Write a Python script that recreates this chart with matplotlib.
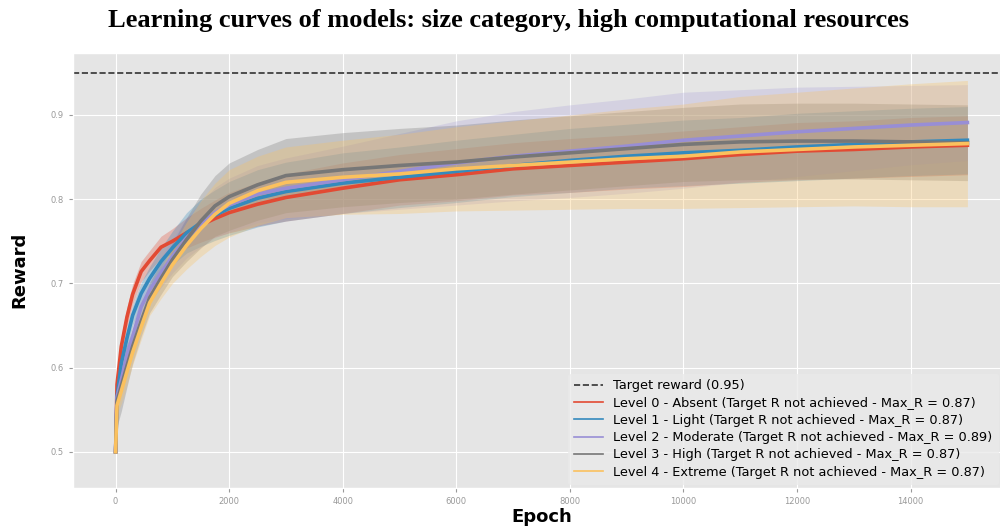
import matplotlib
matplotlib.use("Agg")
import matplotlib.pyplot as plt

plt.style.use("ggplot")

# ---- datos: recompensa media y desviacion por nivel -------------------------

epocas = [0, 25, 100, 200, 300, 450, 600, 800, 1000, 1250, 1500, 1750, 2000,
          2500, 3000, 4000, 5000, 6000, 7000, 8000, 9000, 10000, 11000, 12000,
          13000, 14000, 15000]

media_n0 = [0.50, 0.58, 0.625, 0.660, 0.687, 0.714, 0.727, 0.743, 0.750, 0.760,
            0.769, 0.777, 0.784, 0.794, 0.802, 0.813, 0.823, 0.829, 0.836, 0.840,
            0.844, 0.848, 0.853, 0.857, 0.859, 0.862, 0.864]
media_n1 = [0.50, 0.565, 0.605, 0.635, 0.662, 0.688, 0.706, 0.726, 0.742, 0.760,
            0.772, 0.781, 0.789, 0.801, 0.809, 0.819, 0.826, 0.833, 0.840, 0.846,
            0.851, 0.855, 0.858, 0.862, 0.865, 0.868, 0.870]
media_n2 = [0.50, 0.565, 0.585, 0.615, 0.637, 0.672, 0.692, 0.713, 0.732, 0.754,
            0.770, 0.784, 0.793, 0.806, 0.813, 0.823, 0.833, 0.843, 0.851, 0.857,
            0.863, 0.870, 0.875, 0.880, 0.884, 0.888, 0.891]
media_n3 = [0.50, 0.56, 0.578, 0.602, 0.625, 0.655, 0.683, 0.706, 0.728, 0.752,
            0.774, 0.792, 0.803, 0.817, 0.828, 0.835, 0.840, 0.844, 0.850, 0.855,
            0.860, 0.865, 0.868, 0.869, 0.869, 0.868, 0.867]
media_n4 = [0.50, 0.555, 0.572, 0.595, 0.618, 0.648, 0.677, 0.700, 0.722, 0.745,
            0.765, 0.782, 0.795, 0.810, 0.820, 0.826, 0.830, 0.836, 0.840, 0.844,
            0.848, 0.851, 0.856, 0.859, 0.862, 0.864, 0.866]

desv_n0 = [0.0, 0.01, 0.012, 0.012, 0.012, 0.012, 0.012, 0.013, 0.015, 0.018,
           0.020, 0.022, 0.024, 0.026, 0.028, 0.030, 0.030, 0.031, 0.031, 0.032,
           0.032, 0.033, 0.033, 0.034, 0.034, 0.035, 0.035]
desv_n1 = [0.0, 0.01, 0.012, 0.012, 0.012, 0.013, 0.014, 0.016, 0.020, 0.024,
           0.028, 0.030, 0.032, 0.034, 0.035, 0.036, 0.036, 0.037, 0.037, 0.038,
           0.038, 0.039, 0.039, 0.040, 0.040, 0.040, 0.040]
desv_n2 = [0.0, 0.01, 0.012, 0.012, 0.013, 0.014, 0.015, 0.018, 0.020, 0.024,
           0.027, 0.030, 0.032, 0.034, 0.036, 0.040, 0.045, 0.050, 0.053, 0.055,
           0.056, 0.057, 0.055, 0.053, 0.050, 0.047, 0.045]
desv_n3 = [0.0, 0.03, 0.03, 0.025, 0.02, 0.018, 0.018, 0.019, 0.020, 0.026,
           0.032, 0.036, 0.040, 0.042, 0.044, 0.044, 0.044, 0.044, 0.044, 0.044,
           0.044, 0.044, 0.045, 0.045, 0.045, 0.045, 0.045]
desv_n4 = [0.0, 0.01, 0.015, 0.015, 0.015, 0.015, 0.015, 0.018, 0.022, 0.028,
           0.033, 0.037, 0.040, 0.041, 0.042, 0.044, 0.047, 0.050, 0.053, 0.056,
           0.059, 0.062, 0.066, 0.068, 0.070, 0.073, 0.075]

objetivo = 0.95
max_r = [0.87, 0.87, 0.89, 0.87, 0.87]
niveles = ["Level 0 - Absent", "Level 1 - Light", "Level 2 - Moderate",
           "Level 3 - High", "Level 4 - Extreme"]

medias = [media_n0, media_n1, media_n2, media_n3, media_n4]
desvios = [desv_n0, desv_n1, desv_n2, desv_n3, desv_n4]
colores = ["#E24A33", "#348ABD", "#988ED5", "#777777", "#FBC15E"]
# la banda morada queda algo mas apagada, el resto igual
alfa_banda = [0.3, 0.3, 0.22, 0.3, 0.3]

# ---- dibujo -----------------------------------------------------------------

fig = plt.figure(figsize=(10, 5.29), dpi=100)
ax = fig.add_axes([0.073, 0.0775, 0.937, 0.823])

ax.axhline(objetivo, color="#333333", lw=1.2, ls="--",
           label=f"Target reward ({objetivo})")

for nombre, m, d, c, mx, al in zip(niveles, medias, desvios, colores, max_r,
                                   alfa_banda):
    inf = [a - b for a, b in zip(m, d)]
    sup = [a + b for a, b in zip(m, d)]
    ax.fill_between(epocas, inf, sup, color=c, alpha=al, lw=0)
    ax.plot(epocas, m, color=c, lw=2.6,
            label=f"{nombre} (Target R not achieved - Max_R = {mx})")

ax.set_xlim(-750, 15750)
ax.set_ylim(0.457, 0.974)
ax.set_xticks(range(0, 15000, 2000))
ax.set_yticks([0.5, 0.6, 0.7, 0.8, 0.9])
ax.tick_params(labelsize=6, colors="#999999", length=3)

ax.set_xlabel("Epoch", fontsize=13, fontweight="bold", color="black")
ax.set_ylabel("Reward", fontsize=13, fontweight="bold", color="black")
ax.xaxis.set_label_coords(0.5, -0.045)
ax.yaxis.set_label_coords(-0.048, 0.5)

leg = ax.legend(loc="lower left", bbox_to_anchor=(0.562, 0.072),
                bbox_transform=fig.transFigure, fontsize=9.3,
                labelspacing=0.33, handlelength=2.2, borderpad=0.45,
                frameon=True)
leg.get_frame().set_facecolor("#EAEAEA")
leg.get_frame().set_edgecolor("#EAEAEA")
for linea in leg.get_lines():
    linea.set_linewidth(1.2)

fig.text(0.508, 0.962,
         "Learning curves of models: size category, high computational resources",
         ha="center", va="center", fontsize=19, fontweight="bold",
         family="Liberation Serif")

fig.savefig("out.png", dpi=100)
